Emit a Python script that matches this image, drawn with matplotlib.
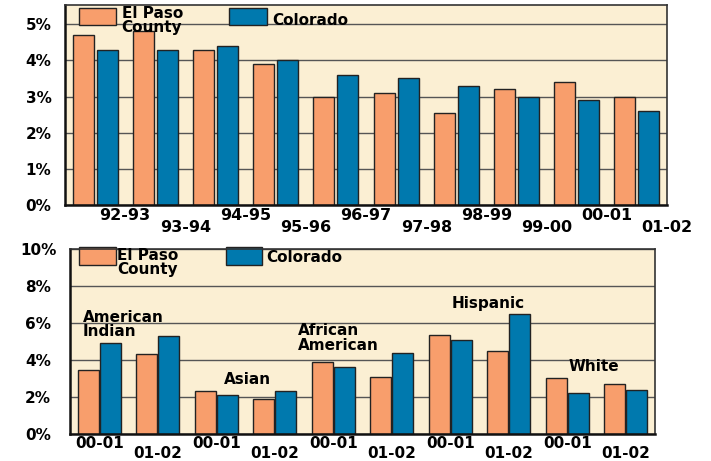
import matplotlib
matplotlib.use("Agg")
import matplotlib.pyplot as plt
from matplotlib.patches import Rectangle
import numpy as np

EP_COLOR = "#F89E6C"
CO_COLOR = "#0079AE"
BG_COLOR = "#FBEFD3"

# dropout rate by school year
years = ["92-93", "93-94", "94-95", "95-96", "96-97",
         "97-98", "98-99", "99-00", "00-01", "01-02"]
ep_year = [4.7, 4.8, 4.3, 3.9, 3.0, 3.1, 2.55, 3.2, 3.4, 3.0]
co_year = [4.3, 4.3, 4.4, 4.0, 3.6, 3.5, 3.3, 3.0, 2.9, 2.6]

# dropout rate by ethnicity, two years each
eth_years = ["00-01", "01-02"] * 5
ep_eth = [3.45, 4.3, 2.3, 1.9, 3.9, 3.1, 5.35, 4.5, 3.0, 2.7]
co_eth = [4.9, 5.3, 2.1, 2.3, 3.6, 4.4, 5.1, 6.5, 2.2, 2.4]

plt.rcParams["font.family"] = ["DejaVu Sans"]
plt.rcParams["font.weight"] = "bold"


def style_axes(ax):
    ax.set_facecolor(BG_COLOR)
    ax.set_axisbelow(True)
    ax.grid(axis="y", color="#555555", linewidth=1)
    for side in ["left", "bottom"]:
        ax.spines[side].set_linewidth(1.8)
        ax.spines[side].set_color("#111111")
    for side in ["top", "right"]:
        ax.spines[side].set_linewidth(1.2)
        ax.spines[side].set_color("#333333")
    ax.tick_params(axis="both", which="both", length=0)
    for lab in ax.get_yticklabels():
        lab.set_horizontalalignment("center")


def draw_legend(ax, ep_box, co_box, ep_txt, co_txt, size):
    ax.add_patch(Rectangle(ep_box[:2], ep_box[2], ep_box[3], transform=ax.transAxes,
                           facecolor=EP_COLOR, edgecolor="#222222", lw=1, clip_on=False))
    ax.add_patch(Rectangle(co_box[:2], co_box[2], co_box[3], transform=ax.transAxes,
                           facecolor=CO_COLOR, edgecolor="#222222", lw=1, clip_on=False))
    ax.text(ep_txt[0], ep_txt[1], "El Paso\nCounty", transform=ax.transAxes,
            fontsize=size, fontweight="bold", va="top", ha="left", linespacing=0.95)
    ax.text(co_txt[0], co_txt[1], "Colorado", transform=ax.transAxes,
            fontsize=size, fontweight="bold", va="center", ha="left")


def by_year(ax):
    x = np.arange(len(years))
    ax.bar(x - 0.2, ep_year, 0.35, color=EP_COLOR, edgecolor="#222222", lw=1)
    ax.bar(x + 0.2, co_year, 0.35, color=CO_COLOR, edgecolor="#222222", lw=1)
    ax.set_xlim(-0.5, len(years) - 0.5)
    ax.set_ylim(0, 5.53)
    ax.set_yticks([0, 1, 2, 3, 4, 5])
    ax.set_yticklabels(["0%", "1%", "2%", "3%", "4%", "5%"], fontsize=11)
    ax.tick_params(axis="y", pad=19)

    # staggered labels sit on the right edge of each pair
    ax.set_xticks(x[0::2] + 0.5)
    ax.set_xticklabels(years[0::2], fontsize=11.5)
    ax.set_xticks(x[1::2] + 0.5, minor=True)
    ax.set_xticklabels(years[1::2], minor=True, fontsize=11.5)
    ax.tick_params(axis="x", which="major", pad=2)
    ax.tick_params(axis="x", which="minor", pad=11)
    style_axes(ax)
    draw_legend(ax, (0.023, 0.90, 0.062, 0.085), (0.272, 0.90, 0.064, 0.085),
                (0.094, 0.995), (0.344, 0.925), 11)


def by_ethnicity(ax):
    x = np.arange(len(eth_years))
    ax.bar(x - 0.19, ep_eth, 0.36, color=EP_COLOR, edgecolor="#222222", lw=1)
    ax.bar(x + 0.19, co_eth, 0.36, color=CO_COLOR, edgecolor="#222222", lw=1)
    ax.set_xlim(-0.5, len(eth_years) - 0.5)
    ax.set_ylim(0, 10)
    ax.set_yticks([0, 2, 4, 6, 8, 10])
    ax.set_yticklabels(["0%", "2%", "4%", "6%", "8%", "10%"], fontsize=11)
    ax.tick_params(axis="y", pad=23)

    ax.set_xticks(x[0::2])
    ax.set_xticklabels(eth_years[0::2], fontsize=11)
    ax.set_xticks(x[1::2], minor=True)
    ax.set_xticklabels(eth_years[1::2], minor=True, fontsize=11)
    ax.tick_params(axis="x", which="major", pad=1.5)
    ax.tick_params(axis="x", which="minor", pad=8.5)
    style_axes(ax)

    kw = dict(fontsize=11, fontweight="bold", linespacing=0.95)
    ax.text(-0.28, 6.7, "American\nIndian", ha="left", va="top", **kw)
    ax.text(2.54, 2.97, "Asian", ha="center", va="center", **kw)
    ax.text(3.40, 5.98, "African\nAmerican", ha="left", va="top", **kw)
    ax.text(6.65, 7.08, "Hispanic", ha="center", va="center", **kw)
    ax.text(8.46, 3.64, "White", ha="center", va="center", **kw)
    draw_legend(ax, (0.016, 0.913, 0.063, 0.096), (0.267, 0.913, 0.061, 0.096),
                (0.08, 1.005), (0.336, 0.953), 11)


fig = plt.figure(figsize=(7.11, 4.61), dpi=100)
ax1 = fig.add_axes([0.0914, 0.5553, 0.8467, 0.4338])
ax2 = fig.add_axes([0.0985, 0.0586, 0.8228, 0.4013])

by_year(ax1)
by_ethnicity(ax2)

fig.savefig("out.png", dpi=100)
